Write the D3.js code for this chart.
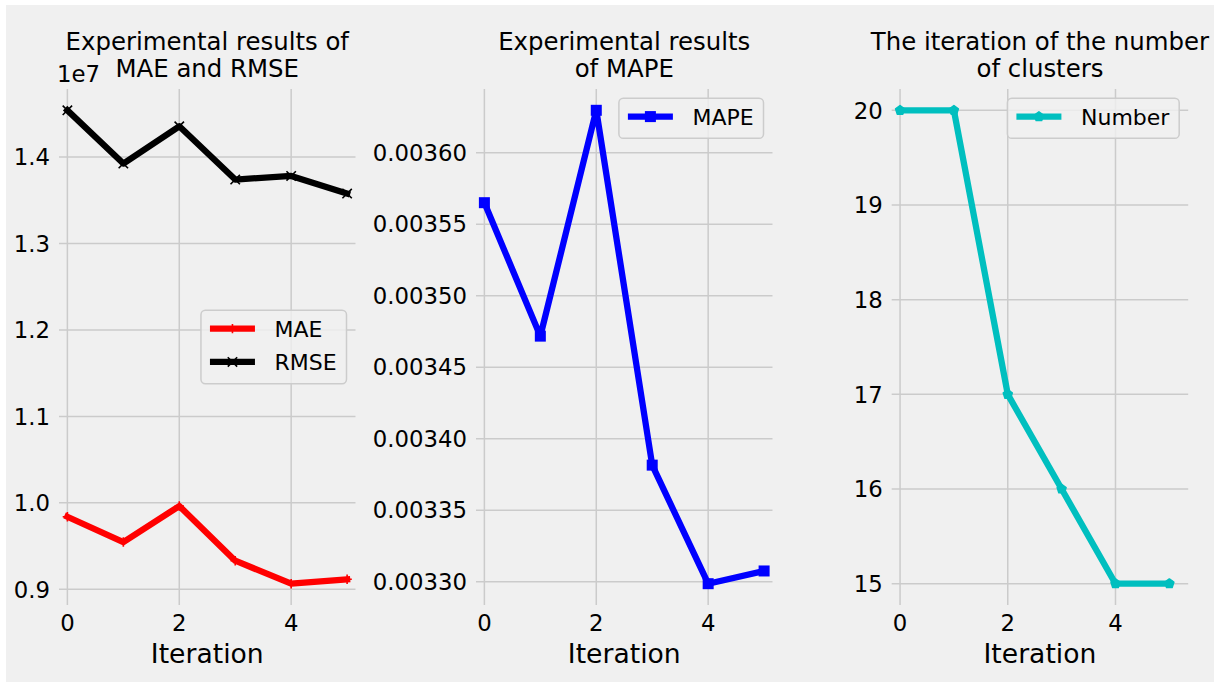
<!DOCTYPE html>
<html>
<head>
<meta charset="utf-8">
<script src="https://cdn.jsdelivr.net/npm/d3@7"></script>
<style>
  body { margin: 0; background: #ffffff; }
  svg text { font-family: "DejaVu Sans", sans-serif; fill: #000; }
</style>
</head>
<body>
<div id="chart"></div>
<script>
// Data
const iterations = [0, 1, 2, 3, 4, 5];
const mae = [0.9839e7, 0.9547e7, 0.9963e7, 0.9331e7, 0.9065e7, 0.9116e7];
const rmse = [1.4541e7, 1.3925e7, 1.4356e7, 1.3740e7, 1.3782e7, 1.3578e7];
const mape = [0.0035650, 0.0034717, 0.0036296, 0.0033815, 0.0032986, 0.0033075];
const clusters = [20, 20, 17, 16, 15, 15];

const xTicks = [0, 2, 4];
const yTicksErr = [0.9e7, 1.0e7, 1.1e7, 1.2e7, 1.3e7, 1.4e7];
const yTicksMape = [0.00330, 0.00335, 0.00340, 0.00345, 0.00350, 0.00355, 0.00360];
const yTicksNum = [15, 16, 17, 18, 19, 20];

// Figure setup
const W = 1214, H = 682;
const axTop = 89, axBottom = 605, axWidth = 296.5;
const bg = "#f0f0f0", gridColor = "#cbcbcb";
const lineW = 6.3;
const tickSize = "22.8px";

const svg = d3.select("#chart")
    .append("svg")
    .attr("width", W)
    .attr("height", H);

svg.append("rect")
    .attr("x", 6).attr("y", 5)
    .attr("width", W - 6).attr("height", H - 5)
    .attr("fill", bg);

// y domain from data extent with a small margin (like matplotlib autoscale)
function padExtent(vals, frac) {
    const [lo, hi] = d3.extent(vals);
    const m = (hi - lo) * frac;
    return [lo - m, hi + m];
}

const panels = [
    {
        left: 59,
        xDomain: [-0.15, 5.15],
        yDomain: padExtent(mae.concat(rmse), 0.045),
        yTicks: yTicksErr,
        yFormat: d => d3.format(".1f")(d / 1e7),
        title: ["Experimental results of", "MAE and RMSE"],
        offsetText: "1e7",
        legendLoc: "center right",
        series: [
            { name: "MAE", values: mae, color: "#ff0000", marker: "plus" },
            { name: "RMSE", values: rmse, color: "#000000", marker: "cross" }
        ]
    },
    {
        left: 476,
        xDomain: [-0.15, 5.15],
        yDomain: padExtent(mape, 0.045),
        yTicks: yTicksMape,
        yFormat: d3.format(".5f"),
        title: ["Experimental results", "of MAPE"],
        legendLoc: "upper right",
        series: [
            { name: "MAPE", values: mape, color: "#0000ff", marker: "square" }
        ]
    },
    {
        left: 891.7,
        xDomain: [-0.155, 5.35],
        yDomain: padExtent(clusters, 0.045),
        yTicks: yTicksNum,
        yFormat: d3.format("d"),
        title: ["The iteration of the number", "of clusters"],
        legendLoc: "upper right",
        series: [
            { name: "Number", values: clusters, color: "#00bfbf", marker: "pentagon" }
        ]
    }
];

// Marker drawing
function drawMarker(g, type, x, y, color) {
    const s = 4.7;
    if (type === "plus") {
        g.append("path")
            .attr("d", `M${x - s},${y}H${x + s}M${x},${y - s}V${y + s}`)
            .attr("stroke", color).attr("stroke-width", 1.6).attr("fill", "none");
    } else if (type === "cross") {
        g.append("path")
            .attr("d", `M${x - s},${y - s}L${x + s},${y + s}M${x - s},${y + s}L${x + s},${y - s}`)
            .attr("stroke", color).attr("stroke-width", 1.6).attr("fill", "none");
    } else if (type === "square") {
        g.append("rect")
            .attr("x", x - s).attr("y", y - s)
            .attr("width", 2 * s).attr("height", 2 * s)
            .attr("fill", color).attr("stroke", color).attr("stroke-width", 1.6);
    } else if (type === "pentagon") {
        const pts = d3.range(5).map(k => {
            const a = -Math.PI / 2 + k * 2 * Math.PI / 5;
            return [x + s * Math.cos(a), y + s * Math.sin(a)];
        });
        g.append("polygon")
            .attr("points", pts.map(p => p.join(",")).join(" "))
            .attr("fill", color).attr("stroke", color).attr("stroke-width", 1.6)
            .attr("stroke-linejoin", "round");
    }
}

panels.forEach(p => {
    const x = d3.scaleLinear().domain(p.xDomain).range([p.left, p.left + axWidth]);
    const y = d3.scaleLinear().domain(p.yDomain).range([axBottom, axTop]);
    const g = svg.append("g");

    // Grid
    g.selectAll(".hgrid")
        .data(p.yTicks)
        .enter().append("line")
        .attr("x1", p.left).attr("x2", p.left + axWidth)
        .attr("y1", d => y(d)).attr("y2", d => y(d))
        .attr("stroke", gridColor).attr("stroke-width", 1.5);

    g.selectAll(".vgrid")
        .data(xTicks)
        .enter().append("line")
        .attr("x1", d => x(d)).attr("x2", d => x(d))
        .attr("y1", axTop).attr("y2", axBottom)
        .attr("stroke", gridColor).attr("stroke-width", 1.5);

    // Tick labels
    g.selectAll(".ylab")
        .data(p.yTicks)
        .enter().append("text")
        .attr("x", p.left - 9)
        .attr("y", d => y(d))
        .attr("dy", "0.36em")
        .attr("text-anchor", "end")
        .style("font-size", tickSize)
        .text(p.yFormat);

    g.selectAll(".xlab")
        .data(xTicks)
        .enter().append("text")
        .attr("x", d => x(d))
        .attr("y", 631)
        .attr("text-anchor", "middle")
        .style("font-size", tickSize)
        .text(d => d);

    // Axis label
    g.append("text")
        .attr("x", p.left + axWidth / 2)
        .attr("y", 663)
        .attr("text-anchor", "middle")
        .style("font-size", "26.6px")
        .text("Iteration");

    // Title
    p.title.forEach((t, i) => {
        g.append("text")
            .attr("x", p.left + axWidth / 2)
            .attr("y", 50 + i * 27)
            .attr("text-anchor", "middle")
            .style("font-size", "24.4px")
            .text(t);
    });

    if (p.offsetText) {
        g.append("text")
            .attr("x", p.left - 2)
            .attr("y", 82)
            .style("font-size", tickSize)
            .text(p.offsetText);
    }

    // Lines and markers
    p.series.forEach(s => {
        const line = d3.line()
            .x((d, i) => x(iterations[i]))
            .y(d => y(d));
        g.append("path")
            .datum(s.values)
            .attr("fill", "none")
            .attr("stroke", s.color)
            .attr("stroke-width", lineW)
            .attr("stroke-linejoin", "round")
            .attr("stroke-linecap", "square")
            .attr("d", line);
        s.values.forEach((v, i) => drawMarker(g, s.marker, x(iterations[i]), y(v), s.color));
    });

    // Legend
    const rowH = 33.3, padL = 9, handleLen = 45, gap = 19.6, padR = 9.8;
    const nRows = p.series.length;
    const boxH = 40 + (nRows - 1) * rowH;
    const lg = g.append("g");
    const box = lg.append("rect");
    const texts = p.series.map(s => lg.append("text")
        .style("font-size", "22px")
        .text(s.name));
    const textW = d3.max(texts, t => t.node().getComputedTextLength());
    const boxW = padL + handleLen + gap + textW + padR;
    const boxX = p.left + axWidth - 9 - boxW;
    const boxY = p.legendLoc === "upper right" ? axTop + 9.3 : (axTop + axBottom) / 2 - boxH / 2;

    box.attr("x", boxX).attr("y", boxY)
        .attr("width", boxW).attr("height", boxH)
        .attr("rx", 4.4)
        .attr("fill", bg).attr("fill-opacity", 0.8)
        .attr("stroke", "#cccccc").attr("stroke-width", 1.5);

    p.series.forEach((s, i) => {
        const cy = boxY + 18.3 + i * rowH;
        lg.append("line")
            .attr("x1", boxX + padL).attr("x2", boxX + padL + handleLen)
            .attr("y1", cy).attr("y2", cy)
            .attr("stroke", s.color).attr("stroke-width", lineW);
        drawMarker(lg, s.marker, boxX + padL + handleLen / 2, cy, s.color);
        texts[i].attr("x", boxX + padL + handleLen + gap)
            .attr("y", cy)
            .attr("dy", "0.36em");
    });
});
</script>
</body>
</html>
